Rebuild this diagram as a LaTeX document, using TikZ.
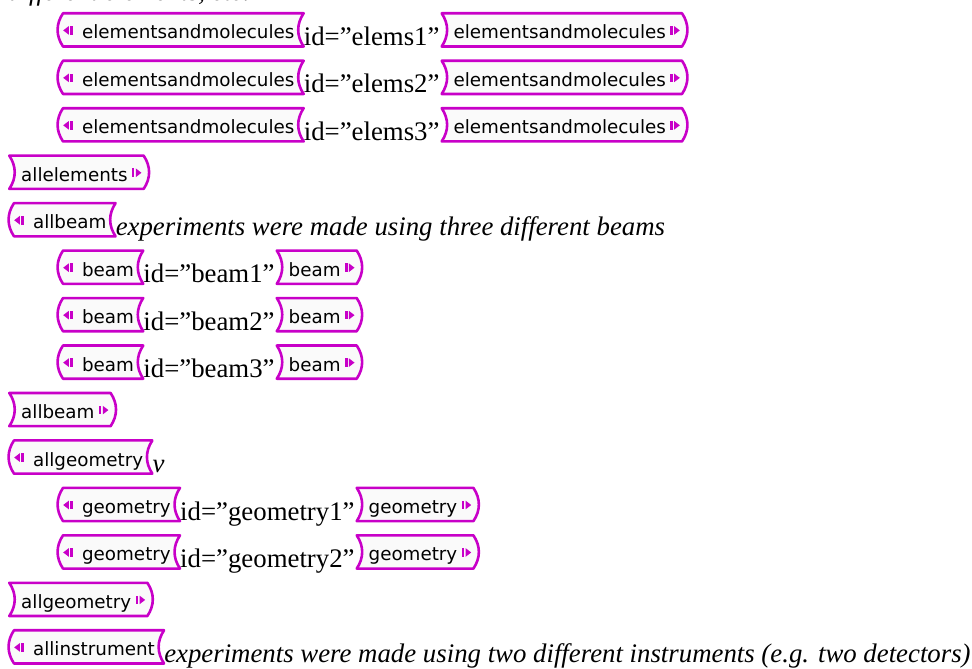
\documentclass[tikz,border=0pt]{standalone}
\usepackage{fontspec}
\setmainfont{Liberation Serif}
\newfontfamily\tagfont{DejaVu Sans}
\usetikzlibrary{backgrounds}

\definecolor{tagmag}{RGB}{200,0,200}
\definecolor{tagfill}{RGB}{250,250,250}

\tikzset{
  tagbox/.style={inner xsep=0pt, inner ysep=0pt, text height=25.4pt,
    text depth=7.4pt, font=\fontsize{18.3}{20}\tagfont},
  tagline/.style={draw=tagmag, fill=tagfill, line width=2.6pt, line join=round},
  idtext/.style={inner sep=0pt, font=\fontsize{26.8}{28}\selectfont},
  notetext/.style={inner sep=0pt, font=\fontsize{26.8}{28}\selectfont\itshape},
}

\begin{document}
\begin{tikzpicture}[x=1pt, y=-1pt]

  \newcommand\rowh{47.46}
  \newcommand\lmark{\tikz[baseline=-4.2pt]{%
      \fill[tagmag] (0pt,4.3pt) -- (5.6pt,0pt) -- (5.6pt,8.6pt) -- cycle;
      \fill[tagmag] (7pt,0pt) rectangle (9.4pt,8.6pt);}}
  \newcommand\rmark{\tikz[baseline=-4.2pt]{%
      \fill[tagmag] (0pt,0pt) rectangle (2.4pt,8.6pt);
      \fill[tagmag] (3.8pt,0pt) -- (9.4pt,4.3pt) -- (3.8pt,8.6pt) -- cycle;}}
  \newcommand\opentag[3]{%
    \node[tagbox,#2] (#1) {\lmark\hspace{9.5pt}#3\hspace*{9pt}};
    \begin{scope}[on background layer]
      \draw[tagline] (#1.north west) to[bend right=34] (#1.south west)
        -- (#1.south east) to[bend left=34] (#1.north east) -- cycle;
    \end{scope}}
  \newcommand\closetag[3]{%
    \node[tagbox,#2] (#1) {\hspace*{11.7pt}#3\hspace{4.5pt}\rmark\hspace*{2pt}};
    \begin{scope}[on background layer]
      \draw[tagline] (#1.north west) to[bend left=34] (#1.south west)
        -- (#1.south east) to[bend right=34] (#1.north east) -- cycle;
    \end{scope}}

  \useasboundingbox (0,0) rectangle (972,669);
  \clip (0,0) rectangle (972,669);

  \node[notetext, anchor=base west] (top) at (8,0.5) {different elements, etc.};

  %% elements and molecules
  \opentag{o1}{anchor=north west, at={(63,13.3)}}{elementsandmolecules}
  \node[idtext, anchor=base west] (t1) at ([yshift=-6.5pt]o1.base east) {id=”elems1”};
  \closetag{c1}{anchor=base west, at={([xshift=2pt,yshift=6.5pt]t1.base east)}}{elementsandmolecules}

  \opentag{o2}{anchor=north west, at={(63,13.3+\rowh)}}{elementsandmolecules}
  \node[idtext, anchor=base west] (t2) at ([yshift=-6.5pt]o2.base east) {id=”elems2”};
  \closetag{c2}{anchor=base west, at={([xshift=2pt,yshift=6.5pt]t2.base east)}}{elementsandmolecules}

  \opentag{o3}{anchor=north west, at={(63,13.3+2*\rowh)}}{elementsandmolecules}
  \node[idtext, anchor=base west] (t3) at ([yshift=-6.5pt]o3.base east) {id=”elems3”};
  \closetag{c3}{anchor=base west, at={([xshift=2pt,yshift=6.5pt]t3.base east)}}{elementsandmolecules}

  \closetag{c4}{anchor=north west, at={(9.3,13.3+3*\rowh)}}{allelements}

  %% beams
  \opentag{o5}{anchor=north west, at={(14,13.3+4*\rowh)}}{allbeam}
  \node[notetext, anchor=base west] (n5) at ([yshift=-6.5pt]o5.base east)
    {experiments were made using three different beams};

  \opentag{o6}{anchor=north west, at={(63,13.3+5*\rowh)}}{beam}
  \node[idtext, anchor=base west] (t6) at ([yshift=-6.5pt]o6.base east) {id=”beam1”};
  \closetag{c6}{anchor=base west, at={([xshift=2pt,yshift=6.5pt]t6.base east)}}{beam}

  \opentag{o7}{anchor=north west, at={(63,13.3+6*\rowh)}}{beam}
  \node[idtext, anchor=base west] (t7) at ([yshift=-6.5pt]o7.base east) {id=”beam2”};
  \closetag{c7}{anchor=base west, at={([xshift=2pt,yshift=6.5pt]t7.base east)}}{beam}

  \opentag{o8}{anchor=north west, at={(63,13.3+7*\rowh)}}{beam}
  \node[idtext, anchor=base west] (t8) at ([yshift=-6.5pt]o8.base east) {id=”beam3”};
  \closetag{c8}{anchor=base west, at={([xshift=2pt,yshift=6.5pt]t8.base east)}}{beam}

  \closetag{c9}{anchor=north west, at={(9.3,13.3+8*\rowh)}}{allbeam}

  %% geometry
  \opentag{o10}{anchor=north west, at={(14,13.3+9*\rowh)}}{allgeometry}
  \node[notetext, anchor=base west] (n10) at ([yshift=-6.5pt]o10.base east) {v};

  \opentag{o11}{anchor=north west, at={(63,13.3+10*\rowh)}}{geometry}
  \node[idtext, anchor=base west] (t11) at ([yshift=-6.5pt]o11.base east) {id=”geometry1”};
  \closetag{c11}{anchor=base west, at={([xshift=2pt,yshift=6.5pt]t11.base east)}}{geometry}

  \opentag{o12}{anchor=north west, at={(63,13.3+11*\rowh)}}{geometry}
  \node[idtext, anchor=base west] (t12) at ([yshift=-6.5pt]o12.base east) {id=”geometry2”};
  \closetag{c12}{anchor=base west, at={([xshift=2pt,yshift=6.5pt]t12.base east)}}{geometry}

  \closetag{c13}{anchor=north west, at={(9.3,13.3+12*\rowh)}}{allgeometry}

  %% instruments
  \opentag{o14}{anchor=north west, at={(14,13.3+13*\rowh)}}{allinstrument}
  \node[notetext, anchor=base west] (n14) at ([yshift=-6.5pt]o14.base east)
    {experiments were made using two different instruments (e.g. two detectors)};

\end{tikzpicture}
\end{document}
